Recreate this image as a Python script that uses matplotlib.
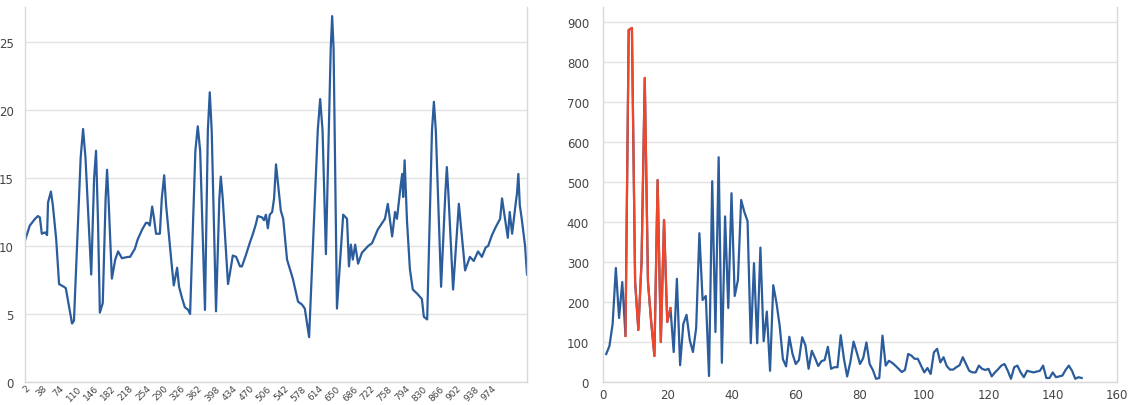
import matplotlib
matplotlib.use("Agg")
import matplotlib.pyplot as plt

# ---- Left chart data ----
left_x = [2, 12, 23, 29, 33, 37, 44, 48, 50, 56, 60, 67, 73, 83, 87, 100, 104,
          118, 123, 128, 140, 146, 150, 154, 158, 164, 170, 173, 176, 183, 190, 196, 204,
          217, 221, 231, 237, 246, 254, 258, 262, 267, 271, 275, 283, 287,
          292, 296, 304, 308, 312, 319, 323, 329, 335, 342, 346, 357, 362, 367,
          377, 383, 387, 391, 400, 407, 410, 414, 425, 429, 435, 442, 450, 454, 462,
          471, 477, 483, 487, 496, 500, 504, 508, 512, 517, 521, 525, 531,
          535, 540, 548, 560, 571, 579, 585, 594, 612, 617, 622, 629, 639, 642, 645,
          652, 665, 673, 677, 681, 685, 690, 696, 704, 717, 725, 737, 752,
          758, 767, 773, 777, 785, 788, 790, 793, 798, 804, 810, 819, 829,
          833, 840, 850, 854, 858, 869, 878, 881, 884, 894, 906, 919, 929, 937, 946,
          954, 962, 967, 975, 983, 992, 996, 1008, 1012, 1017, 1025, 1027,
          1030, 1033, 1037, 1044, 1048]
left_y = [10.4, 11.5, 12.0, 12.2, 12.1, 10.9, 11.0, 10.8, 13.2, 14.0, 13.0, 10.5, 7.2, 7.0, 6.9, 4.3, 4.5,
          16.5, 18.6, 16.5, 7.9, 15.0, 17.0, 12.0, 5.1, 5.8, 13.5, 15.6, 13.5, 7.6, 9.0, 9.6, 9.1,
          9.2, 9.2, 9.8, 10.5, 11.2, 11.7, 11.7, 11.5, 12.9, 12.0, 10.9, 10.9, 13.5,
          15.2, 13.0, 10.0, 8.5, 7.1, 8.4, 7.0, 6.2, 5.5, 5.3, 5.0, 17.0, 18.8, 17.0,
          5.3, 18.5, 21.3, 18.5, 5.2, 13.5, 15.1, 13.5, 7.2, 8.0, 9.3, 9.2, 8.5, 8.5, 9.3,
          10.3, 10.9, 11.6, 12.2, 12.1, 11.9, 12.3, 11.3, 12.3, 12.5, 13.5, 16.0, 14.0,
          12.6, 12.0, 9.0, 7.6, 5.9, 5.7, 5.4, 3.3, 18.5, 20.8, 18.5, 9.4, 24.5, 26.9, 24.5,
          5.4, 12.3, 12.0, 8.5, 10.1, 9.0, 10.1, 8.7, 9.5, 10.0, 10.2, 11.2, 12.0,
          13.1, 10.7, 12.5, 12.0, 14.5, 15.3, 13.6, 16.3, 11.8, 8.3, 6.8, 6.5, 6.1,
          4.8, 4.6, 18.5, 20.6, 18.5, 7.0, 14.0, 15.8, 14.0, 6.8, 13.1, 8.2, 9.2, 8.9, 9.6,
          9.2, 9.9, 10.0, 10.8, 11.4, 12.0, 13.5, 10.6, 12.5, 10.9, 13.3, 13.8,
          15.3, 13.0, 12.0, 10.0, 7.9]
left_xticks = list(range(2, 1000, 36))
left_yticks = [0, 5, 10, 15, 20, 25]

# ---- Right chart data ----
right_x = list(range(1, 150))
right_y = [70, 90, 145, 285, 160, 250, 115, 880, 885, 250, 130, 300, 760, 250, 150, 65, 505, 100, 405, 150,
           185, 75, 258, 42, 145, 168, 105, 75, 135, 372, 205, 215, 15, 502, 125, 562, 48, 414, 185, 472,
           215, 255, 455, 425, 402, 97, 297, 97, 336, 102, 176, 28, 242, 198, 140, 57, 39, 113, 70, 45,
           55, 112, 92, 33, 78, 60, 40, 52, 55, 88, 33, 37, 37, 117, 58, 14, 50, 101, 74, 45,
           60, 99, 45, 30, 8, 10, 116, 41, 53, 48, 41, 33, 25, 30, 70, 66, 58, 58, 41, 24,
           35, 20, 74, 83, 49, 62, 40, 31, 31, 37, 42, 62, 45, 28, 24, 24, 41, 33, 30, 33,
           14, 24, 32, 41, 45, 28, 8, 37, 41, 24, 12, 28, 26, 24, 26, 28, 41, 10, 10, 24,
           12, 14, 16, 30, 41, 28, 8, 12, 10]
red_start, red_end = 7, 21   # x-range highlighted in red
right_xticks = [0, 20, 40, 60, 80, 100, 120, 140, 160]
right_yticks = list(range(0, 1000, 100))

BLUE = "#2b5c9c"
RED = "#f0462a"
GRID = "#e3e3e3"
SPINE = "#d9d9d9"
TXT = "#444444"

fig = plt.figure(figsize=(11.28, 4.06), dpi=100)
ax1 = fig.add_axes([25 / 1128, 23 / 406, 502 / 1128, 375 / 406])
ax2 = fig.add_axes([603 / 1128, 23 / 406, 514 / 1128, 375 / 406])

for ax in (ax1, ax2):
    ax.set_facecolor("white")
    ax.spines["top"].set_visible(False)
    for s in ("left", "right", "bottom"):
        ax.spines[s].set_color(SPINE)
        ax.spines[s].set_linewidth(1.0)
    ax.tick_params(length=0, colors=TXT, labelsize=8.5)
    ax.grid(axis="y", color=GRID, linewidth=1.0)
    ax.set_axisbelow(True)

# Left
ax1.plot(left_x, left_y, color=BLUE, linewidth=1.6, solid_joinstyle="round")
ax1.set_xlim(2, 1048)
ax1.set_ylim(0, 27.57)
ax1.set_yticks(left_yticks)
ax1.set_xticks(left_xticks)
ax1.set_xticklabels([str(t) for t in left_xticks], rotation=45, ha="right",
                    rotation_mode="anchor", fontsize=6.5)
ax1.tick_params(axis="x", pad=1)
ax1.tick_params(axis="y", pad=8)

# Right
ax2.plot(right_x, right_y, color=BLUE, linewidth=1.6, solid_joinstyle="round")
i0 = right_x.index(red_start)
i1 = right_x.index(red_end)
ax2.plot(right_x[i0:i1 + 1], right_y[i0:i1 + 1], color=RED, linewidth=1.6,
         solid_joinstyle="round")
ax2.set_xlim(0, 160)
ax2.set_ylim(0, 937.5)
ax2.set_xticks(right_xticks)
ax2.set_yticks(right_yticks)
ax2.tick_params(axis="x", pad=4)
ax2.tick_params(axis="y", pad=10)

fig.savefig("out.png", dpi=100)
